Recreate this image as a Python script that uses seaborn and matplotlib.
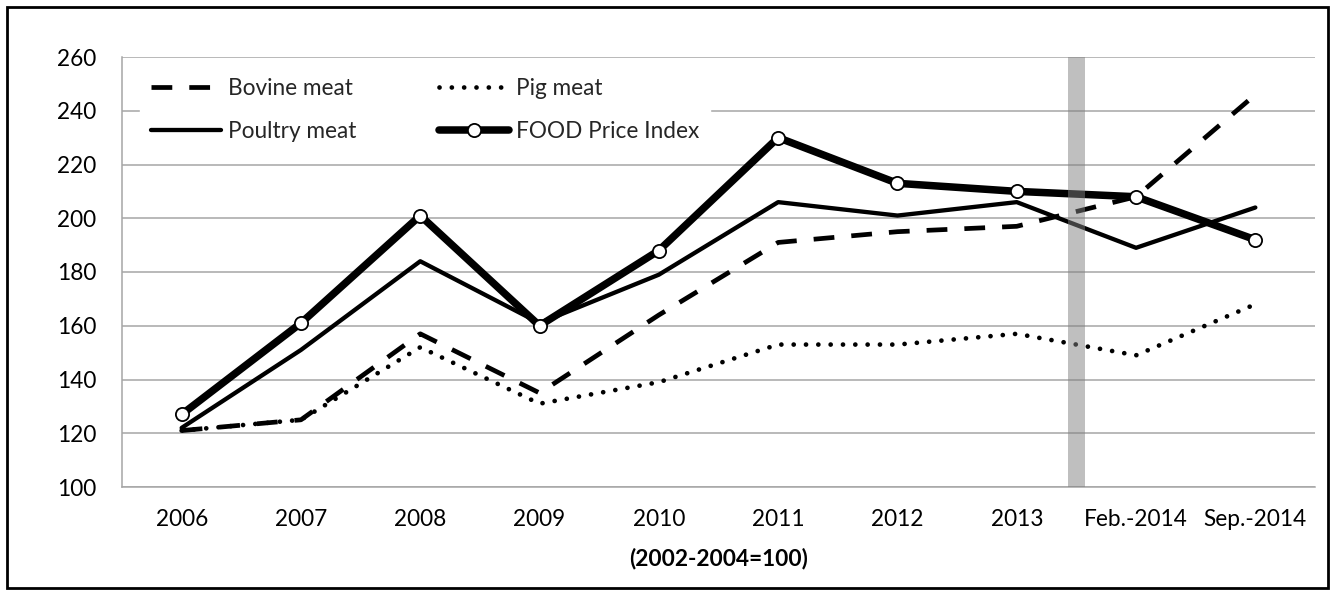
import matplotlib
matplotlib.use("Agg")
import matplotlib.pyplot as plt
from matplotlib.patches import Rectangle
from matplotlib.lines import Line2D
import seaborn as sns
import pandas as pd
import numpy as np

categories = ['2006', '2007', '2008', '2009', '2010', '2011', '2012', '2013', 'Feb.-2014', 'Sep.-2014']
bovine = [121, 125, 157, 135, 164, 191, 195, 197, 208, 246]
pig = [121, 125, 152, 131, 139, 153, 153, 157, 149, 168]
poultry = [122, 151, 184, 161, 179, 206, 201, 206, 189, 204]
food = [127, 161, 201, 160, 188, 230, 213, 210, 208, 192]
y_ticks = [100, 120, 140, 160, 180, 200, 220, 240, 260]
x_title = '(2002-2004=100)'

sns.set_theme(style="white")
plt.rcParams['font.family'] = ['Lato', 'DejaVu Sans']

FS = 16.3
W, H = 1332, 592
fig = plt.figure(figsize=(W / 100, H / 100), dpi=100)
ax = fig.add_axes([122 / W, (H - 487) / H, (1315 - 122) / W, (487 - 57) / H])

x = np.arange(len(categories))
df = pd.DataFrame({'x': x, 'bovine': bovine, 'pig': pig, 'poultry': poultry, 'food': food})

grid_c = '#a6a6a6'
for v in y_ticks:
    ax.axhline(v, color=grid_c, lw=1.1, zorder=0)

BOV_LW, PIG_LW, POU_LW, FOOD_LW = 3.4, 3.4, 3.1, 5.4
BOV_DASH = (4.4, 3.6)
PIG_DASH = (0.01, 2.6)

sns.lineplot(data=df, x='x', y='bovine', ax=ax, color='black', lw=BOV_LW,
             zorder=3, estimator=None, sort=False)
ax.lines[-1].set_dashes(BOV_DASH)
sns.lineplot(data=df, x='x', y='pig', ax=ax, color='black', lw=PIG_LW,
             zorder=3, estimator=None, sort=False)
ax.lines[-1].set_dashes(PIG_DASH)
ax.lines[-1].set_dash_capstyle('round')
sns.lineplot(data=df, x='x', y='poultry', ax=ax, color='black', lw=POU_LW,
             zorder=3, estimator=None, sort=False)
sns.lineplot(data=df, x='x', y='food', ax=ax, color='black', lw=FOOD_LW,
             marker='o', markersize=9.5, markerfacecolor='white',
             markeredgecolor='black', markeredgewidth=1.3,
             zorder=4, estimator=None, sort=False)

# shaded separator band
ax.axvspan(7.5 - 0.071, 7.5 + 0.071, color='#808080', alpha=0.5, lw=0, zorder=5)

ax.set_xlim(-0.5, len(categories) - 0.5)
ax.set_ylim(100, 260)
ax.set_yticks(y_ticks)
ax.set_yticklabels([str(v) for v in y_ticks])
ax.set_xticks(x)
ax.set_xticklabels(categories)
ax.set_xticks(np.arange(-0.5, len(categories), 1.0), minor=True)

ax.tick_params(axis='x', which='major', length=0, pad=16, labelsize=FS, labelcolor='black')
ax.tick_params(axis='x', which='minor', length=7, width=1.1, color=grid_c, direction='out')
ax.tick_params(axis='y', which='major', length=6.5, width=1.1, color=grid_c, direction='out',
               pad=12, labelsize=FS, labelcolor='black')

for s in ['top', 'right']:
    ax.spines[s].set_visible(False)
for s in ['left', 'bottom']:
    ax.spines[s].set_color(grid_c)
    ax.spines[s].set_linewidth(1.1)

ax.set_xlabel(x_title, fontsize=FS, fontweight='bold', labelpad=12.5, color='black')
ax.set_ylabel('')

handles = [
    Line2D([], [], color='black', lw=BOV_LW, dashes=BOV_DASH),
    Line2D([], [], color='black', lw=POU_LW),
    Line2D([], [], color='black', lw=PIG_LW, dashes=PIG_DASH, dash_capstyle='round'),
    Line2D([], [], color='black', lw=FOOD_LW, marker='o', markersize=9.5,
           markerfacecolor='white', markeredgecolor='black', markeredgewidth=1.3),
]
labels = ['Bovine meat', 'Poultry meat', 'Pig meat', 'FOOD Price Index']
leg = ax.legend(handles, labels, loc='upper left', bbox_to_anchor=(0.0148, 0.977),
                ncol=2, fontsize=FS, frameon=True, framealpha=1, facecolor='white',
                edgecolor='white', fancybox=False, borderpad=0.5, borderaxespad=0,
                handlelength=3.1, handletextpad=0.3, columnspacing=3.65, labelspacing=0.97)
leg.set_zorder(6)

fig.patches.append(Rectangle((7 / W, 4 / H), (1328 - 7) / W, (588 - 7) / H,
                             transform=fig.transFigure, fill=False, edgecolor='black',
                             lw=2.0, zorder=10))

fig.savefig('out.png', dpi=100, facecolor='white')
